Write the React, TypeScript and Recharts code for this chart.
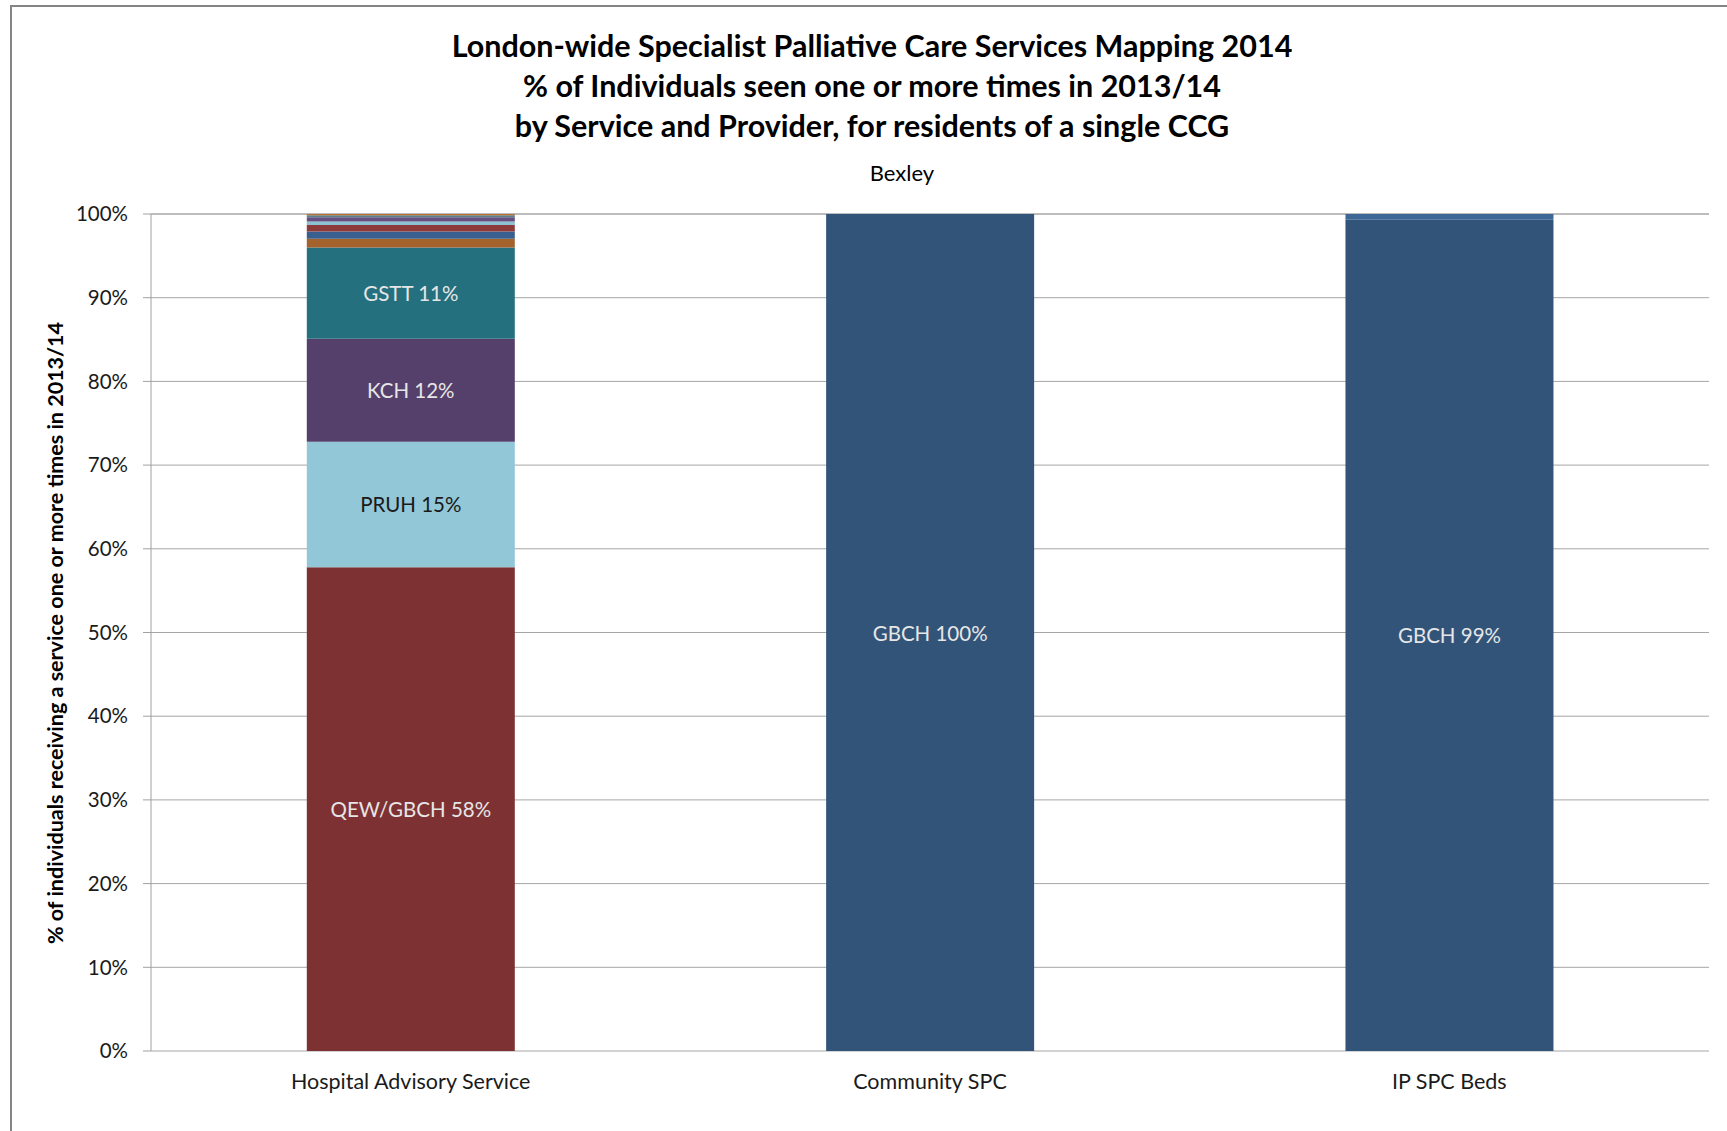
import React from "react";
import { BarChart, Bar, XAxis, YAxis, CartesianGrid, LabelList } from "recharts";

// ---- data -------------------------------------------------------------------

const categories = ["Hospital Advisory Service", "Community SPC", "IP SPC Beds"];

const qewGbch = [57.8, 0, 0];
const pruh = [15.0, 0, 0];
const kch = [12.3, 0, 0];
const gstt = [10.9, 0, 0];
const otherA = [1.03, 0, 0];
const otherB = [0.88, 0, 0];
const otherC = [0.79, 0, 0];
const otherD = [0.4, 0, 0];
const otherE = [0.51, 0, 0];
const otherF = [0.24, 0, 0];
const otherG = [0.15, 0, 0];
const gbch = [0, 100, 99.3];
const ipOther = [0, 0, 0.7];

const yTicks = [0, 10, 20, 30, 40, 50, 60, 70, 80, 90, 100];
const boundaryTicks = [0, 1, 2, 3];

const SERIES = [
  { key: "qew", label: "QEW/GBCH", values: qewGbch, color: "#7e3133", text: "#e6e6e6" },
  { key: "pruh", label: "PRUH", values: pruh, color: "#92c7d7", text: "#1a1a1a" },
  { key: "kch", label: "KCH", values: kch, color: "#553f6b", text: "#e6e6e6" },
  { key: "gstt", label: "GSTT", values: gstt, color: "#24707f", text: "#e6e6e6" },
  { key: "oa", label: "", values: otherA, color: "#a4622d" },
  { key: "ob", label: "", values: otherB, color: "#395f8e" },
  { key: "oc", label: "", values: otherC, color: "#8c3a3a" },
  { key: "od", label: "", values: otherD, color: "#8cc3d3" },
  { key: "oe", label: "", values: otherE, color: "#644f80" },
  { key: "of", label: "", values: otherF, color: "#5b7f8c" },
  { key: "og", label: "", values: otherG, color: "#b7722f" },
  { key: "gbch", label: "GBCH", values: gbch, color: "#325479", text: "#e6e6e6" },
  { key: "ipo", label: "", values: ipOther, color: "#3d6797" },
];

const rows = categories.map((name, i) => {
  const r: any = { name, idx: i + 0.5 };
  SERIES.forEach((s) => (r[s.key] = s.values[i]));
  return r;
});

const FONT = "Lato, 'Open Sans', sans-serif";

function segLabel(label: string, color: string) {
  return (props: any) => {
    const { x, y, width, height, value } = props;
    if (!value) return null;
    return (
      <text
        x={x + width / 2}
        y={y + height / 2}
        textAnchor="middle"
        dominantBaseline="central"
        fill={color}
        fontSize={20.5}
        fontFamily={FONT}
      >
        {`${label} ${Math.round(value)}%`}
      </text>
    );
  };
}

export default function App() {
  return (
    <div style={{ position: "fixed", left: 0, top: 0, width: 1727, height: 1131, overflow: "hidden", background: "#fff", fontFamily: FONT }}>
      <div
        style={{
          position: "absolute",
          left: 372,
          width: 1000,
          top: 25,
          textAlign: "center",
          fontWeight: 700,
          fontSize: 30.5,
          lineHeight: "40px",
          color: "#000",
        }}
      >
        <div>London-wide Specialist Palliative Care Services Mapping 2014</div>
        <div>% of Individuals seen one or more times in 2013/14</div>
        <div>by Service and Provider, for residents of a single CCG</div>
      </div>
      <div style={{ position: "absolute", left: 802, width: 200, top: 159, textAlign: "center", fontSize: 22, color: "#000" }}>
        Bexley
      </div>
      <div
        style={{
          position: "absolute",
          left: 55,
          top: 633,
          transform: "translate(-50%, -50%) rotate(-90deg)",
          whiteSpace: "nowrap",
          fontWeight: 700,
          fontSize: 21.5,
          color: "#000",
        }}
      >
        % of individuals receiving a service one or more times in 2013/14
      </div>
      <div style={{ position: "absolute", left: 0, top: 0 }}>
        <BarChart
          width={1727}
          height={1131}
          data={rows}
          margin={{ top: 214, right: 18, left: 51, bottom: 40 }}
          barCategoryGap="30%"
        >
          <CartesianGrid horizontal vertical={false} stroke="#a6a6a6" />
          <XAxis
            xAxisId="b"
            type="number"
            dataKey="idx"
            domain={[0, 3]}
            ticks={boundaryTicks}
            tick={false}
            tickSize={8}
            tickLine={{ stroke: "#a0a0a0" }}
            axisLine={{ stroke: "#a0a0a0", strokeWidth: 2 }}
            height={0}
          />
          <XAxis
            dataKey="name"
            tickLine={false}
            axisLine={false}
            tickSize={0}
            tickMargin={23}
            height={40}
            tick={{ fill: "#1a1a1a", fontSize: 21.5, fontFamily: FONT }}
          />
          <YAxis
            type="number"
            domain={[0, 100]}
            ticks={yTicks}
            width={100}
            tickSize={8}
            tickMargin={15}
            tickFormatter={(v) => `${v}%`}
            tickLine={{ stroke: "#a0a0a0" }}
            axisLine={{ stroke: "#a0a0a0" }}
            tick={{ fill: "#1a1a1a", fontSize: 20.5, fontFamily: FONT }}
          />
          {SERIES.map((s) => (
            <Bar key={s.key} dataKey={s.key} stackId="a" fill={s.color} isAnimationActive={false}>
              {s.label ? <LabelList dataKey={s.key} content={segLabel(s.label, s.text!)} /> : null}
            </Bar>
          ))}
        </BarChart>
      </div>
      <div
        style={{
          position: "absolute",
          left: 10,
          top: 5,
          width: 2000,
          height: 2000,
          boxSizing: "border-box",
          borderLeft: "2px solid #858585",
          borderTop: "2px solid #858585",
          pointerEvents: "none",
        }}
      />
    </div>
  );
}
